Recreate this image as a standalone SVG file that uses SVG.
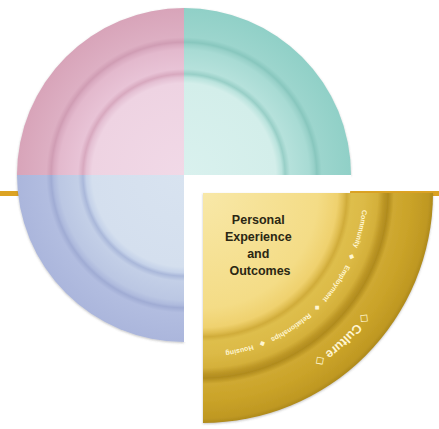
<svg xmlns="http://www.w3.org/2000/svg" width="439" height="429" viewBox="0 0 439 429">
  <style>
    .title { font-family: "Liberation Sans", Arial, sans-serif; font-weight: bold; font-size: 12.5px; fill: #2b2714; text-anchor: middle; }
    .ring { font-family: "Liberation Sans", "DejaVu Sans", Arial, sans-serif; font-weight: bold; fill: #fff6d2; text-anchor: middle; }
    .small { font-size: 7px; }
  </style>
  <defs>
    <filter id="shadow" x="-10%" y="-10%" width="120%" height="120%">
      <feDropShadow dx="0" dy="1" stdDeviation="1.3" flood-color="#555" flood-opacity="0.35"/>
    </filter>
    <radialGradient id="gPink" gradientUnits="userSpaceOnUse" cx="184" cy="175" r="167">
      <stop offset="0" stop-color="#f1d9e7"/>
      <stop offset="0.55" stop-color="#eed3e2"/>
      <stop offset="0.585" stop-color="#e4c0d3"/>
      <stop offset="0.605" stop-color="#d8a9bf"/>
      <stop offset="0.635" stop-color="#e8c3d6"/>
      <stop offset="0.75" stop-color="#e3b9cd"/>
      <stop offset="0.78" stop-color="#d9aac0"/>
      <stop offset="0.795" stop-color="#d09db4"/>
      <stop offset="0.825" stop-color="#ddafc3"/>
      <stop offset="1" stop-color="#d8a4b9"/>
    </radialGradient>
    <radialGradient id="gTeal" gradientUnits="userSpaceOnUse" cx="184" cy="175" r="167">
      <stop offset="0" stop-color="#d9f1ee"/>
      <stop offset="0.55" stop-color="#d3eeea"/>
      <stop offset="0.585" stop-color="#bae3dd"/>
      <stop offset="0.605" stop-color="#98cfc7"/>
      <stop offset="0.635" stop-color="#b5e1db"/>
      <stop offset="0.75" stop-color="#a8dbd4"/>
      <stop offset="0.78" stop-color="#98d1c9"/>
      <stop offset="0.795" stop-color="#88c7be"/>
      <stop offset="0.825" stop-color="#9cd5cd"/>
      <stop offset="1" stop-color="#90d0c7"/>
    </radialGradient>
    <radialGradient id="gBlue" gradientUnits="userSpaceOnUse" cx="184" cy="175" r="167">
      <stop offset="0" stop-color="#d8e3f0"/>
      <stop offset="0.55" stop-color="#d4dfee"/>
      <stop offset="0.585" stop-color="#c5d2e9"/>
      <stop offset="0.605" stop-color="#aab8da"/>
      <stop offset="0.635" stop-color="#c3cfe7"/>
      <stop offset="0.75" stop-color="#bbc7e3"/>
      <stop offset="0.78" stop-color="#aebadd"/>
      <stop offset="0.795" stop-color="#a0acd4"/>
      <stop offset="0.825" stop-color="#b2bde0"/>
      <stop offset="1" stop-color="#abb6dc"/>
    </radialGradient>
    <radialGradient id="gGold" gradientUnits="userSpaceOnUse" cx="203" cy="193" r="230">
      <stop offset="0" stop-color="#f8e8a8"/>
      <stop offset="0.5" stop-color="#f4dc86"/>
      <stop offset="0.585" stop-color="#efd16e"/>
      <stop offset="0.61" stop-color="#dfbd50"/>
      <stop offset="0.625" stop-color="#d0ac3a"/>
      <stop offset="0.645" stop-color="#debe4c"/>
      <stop offset="0.7" stop-color="#dcba46"/>
      <stop offset="0.76" stop-color="#d4b03a"/>
      <stop offset="0.785" stop-color="#bd9726"/>
      <stop offset="0.805" stop-color="#b08b1e"/>
      <stop offset="0.83" stop-color="#cfa931"/>
      <stop offset="0.9" stop-color="#caa329"/>
      <stop offset="0.98" stop-color="#bf9822"/>
      <stop offset="1" stop-color="#ae8a1c"/>
    </radialGradient>
    <path id="arcInner" d="M 362.1 209.7 A 160 160 0 0 1 225.3 351.4"/>
    <path id="arcOuter" d="M 377.0 293.5 A 201 201 0 0 1 294.3 372.1"/>
  </defs>

  <g id="connectors">
    <line x1="0" y1="193.5" x2="439" y2="193.5" stroke="#dca323" stroke-width="5"/>
  </g>

  <g id="circle" filter="url(#shadow)">
    <g id="quadrant-pink">
      <path d="M184 175 L17 175 A167 167 0 0 1 184 8 Z" fill="url(#gPink)"/>
    </g>
    <g id="quadrant-teal">
      <path d="M184 175 L184 8 A167 167 0 0 1 351 175 Z" fill="url(#gTeal)"/>
    </g>
    <g id="quadrant-blue">
      <path d="M184 175 L184 342 A167 167 0 0 1 17 175 Z" fill="url(#gBlue)"/>
    </g>
  </g>

  <path d="M184 175 L351 175 A167 167 0 0 1 184 342 Z" fill="#ffffff"/>

  <g id="quadrant-gold">
    <path d="M203 193 L433 193 A230 230 0 0 1 203 423 Z" fill="url(#gGold)" filter="url(#shadow)"/>
    <text class="title">
      <tspan x="260" y="224">Personal</tspan>
      <tspan x="260" y="241">Experience</tspan>
      <tspan x="260" y="258">and</tspan>
      <tspan x="260" y="275">Outcomes</tspan>
    </text>
    <text class="ring small"><textPath href="#arcInner" startOffset="19.3">Community</textPath></text>
    <text class="ring small"><textPath href="#arcInner" startOffset="48.1">◆</textPath></text>
    <text class="ring small"><textPath href="#arcInner" startOffset="78.7">Employment</textPath></text>
    <text class="ring small"><textPath href="#arcInner" startOffset="109.3">◆</textPath></text>
    <text class="ring small"><textPath href="#arcInner" startOffset="141.9">Relationships</textPath></text>
    <text class="ring small"><textPath href="#arcInner" startOffset="174.4">◆</textPath></text>
    <text class="ring small"><textPath href="#arcInner" startOffset="198">Housing</textPath></text>
    <text class="ring" font-size="12.5"><textPath href="#arcOuter" startOffset="50%">◇ Culture ◇</textPath></text>
  </g>
</svg>
